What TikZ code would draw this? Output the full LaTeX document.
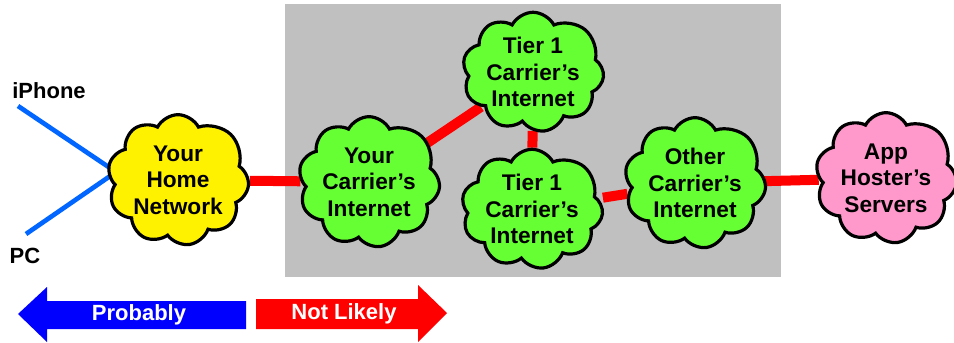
\documentclass[tikz,border=0pt]{standalone}
\usepackage{fontspec}
\setmainfont{Liberation Sans}
\usetikzlibrary{shapes.symbols,backgrounds,calc}

\definecolor{netgreen}{HTML}{66FF33}
\definecolor{netpink}{HTML}{FF99CC}
\definecolor{netgray}{HTML}{C0C0C0}
\definecolor{wireblue}{HTML}{0066FF}

\begin{document}
\begin{tikzpicture}[x=0.75pt,y=-0.75pt,
  net/.style={cloud,draw=black,line width=2.4pt,cloud puffs=9.5,cloud puff arc=125,
    aspect=1.1,inner sep=-5pt,align=center,
    font=\bfseries\fontsize{17}{20}\selectfont,minimum width=106pt,minimum height=98pt},
  link/.style={red,line width=7.5pt},
  wire/.style={wireblue,line width=3.5pt},
  lbl/.style={font=\bfseries\fontsize{16.5}{19}\selectfont},
  arrowtext/.style={white,font=\bfseries\fontsize{16.5}{19}\selectfont}]
\useasboundingbox (0,0) rectangle (954,343);

\node[net,fill=yellow] (home) at (178,180) {Your\\Home\\Network};
\node[net,fill=netgreen] (yourc) at (369,182) {Your\\Carrier’s\\Internet};
\node[net,fill=netgreen,minimum height=88pt] (tiertop) at (533,72) {Tier 1\\Carrier’s\\Internet};
\node[net,fill=netgreen,minimum height=88pt] (tierbot) at (532,209) {Tier 1\\Carrier’s\\Internet};
\node[net,fill=netgreen] (other) at (695,183) {Other\\Carrier’s\\Internet};
\node[net,fill=netpink] (app) at (886,178) {App\\Hoster’s\\Servers};

\node[lbl] (iphone) at (49,91) {iPhone};
\node[lbl] (pc) at (25,256) {PC};
\coordinate (iphtip) at (18,106);
\coordinate (pctip) at (26,234);

% the carriers' box and the links go behind the clouds
\begin{pgfonlayer}{background}
\fill[netgray] (285,4) rectangle (781,277);
\draw[wire] (iphtip) -- ([shift={(-62,-8)}]home.center);
\draw[wire] (pctip) -- ([shift={(-62,-8)}]home.center);
\draw[link] (home) -- (yourc);
\draw[link] (yourc) -- (tiertop);
\draw[link] (tiertop) -- (tierbot);
\draw[link] (tierbot) -- (other);
\draw[link] (other) -- (app);
\end{pgfonlayer}

% likely / not likely arrows
\fill[blue] (18,314) -- (47,287) -- (47,301) -- (246,301) -- (246,329) -- (47,329) -- (47,342) -- cycle;
\fill[red] (256,299) -- (418,299) -- (418,285) -- (447,313) -- (418,342) -- (418,329) -- (256,329) -- cycle;
\node[arrowtext] (probably) at (139,315) {Probably};
\node[arrowtext] (notlikely) at (344,314) {Not Likely};
\end{tikzpicture}
\end{document}
